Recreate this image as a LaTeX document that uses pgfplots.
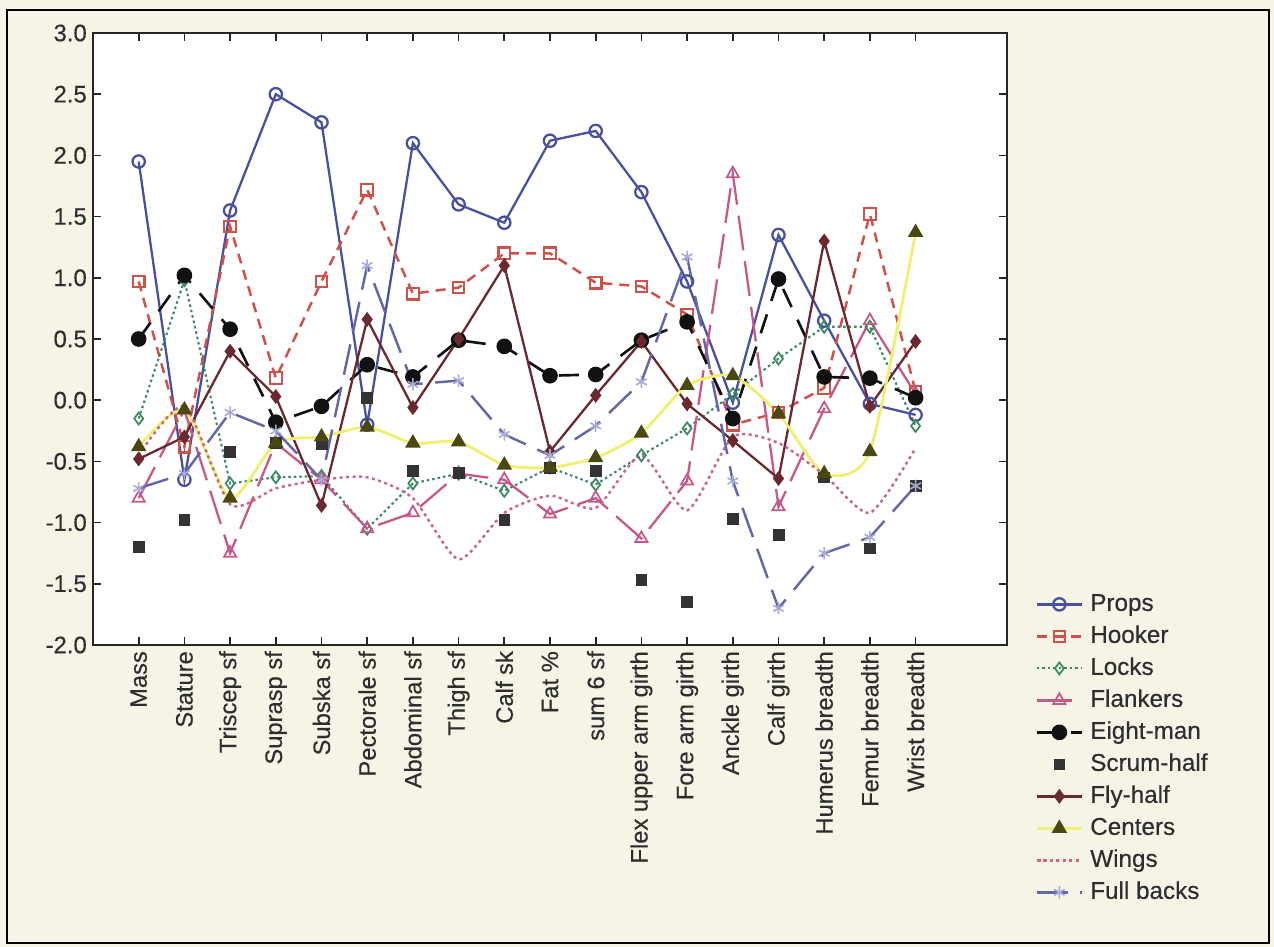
\documentclass[border=0pt]{standalone}
\usepackage{fontspec}
\setmainfont{Liberation Sans}
\newfontfamily\lblfont{Liberation Sans}[FakeBold=0.35]
\usepackage{pgfplots}
\pgfplotsset{compat=1.18}
\usepackage{pgfplotstable}

\definecolor{cProps}{HTML}{4A50A0}
\definecolor{cHook}{HTML}{D0504A}
\definecolor{cLocks}{HTML}{3C8A62}
\definecolor{cFlank}{HTML}{C8588A}
\definecolor{cEight}{HTML}{111111}
\definecolor{cScrum}{HTML}{333333}
\definecolor{cFly}{HTML}{6A2830}
\definecolor{cCentL}{HTML}{F0F070}
\definecolor{cCentM}{HTML}{4A4810}
\definecolor{cWings}{HTML}{C86888}
\definecolor{cFull}{HTML}{6468A8}
\definecolor{cFullM}{HTML}{A8AAD8}
\definecolor{bgc}{HTML}{F6F4E6}
\definecolor{txt}{HTML}{2E2E2E}

\pgfplotstableread{
idx Props Hooker Locks Flankers Eight Scrum Fly Centers Wings Full
0   1.95  0.97  -0.15 -0.80  0.50 -1.20 -0.48 -0.38 -0.45 -0.72
1  -0.65 -0.38   0.98 -0.08  1.02 -0.98 -0.30 -0.08 -0.05 -0.60
2   1.55  1.42  -0.68 -1.25  0.58 -0.42  0.40 -0.80 -0.85 -0.10
3   2.50  0.18  -0.63 -0.35 -0.18 -0.35  0.03 -0.35 -0.72 -0.25
4   2.27  0.97  -0.62 -0.65 -0.05 -0.36 -0.86 -0.30 -0.65 -0.65
5  -0.20  1.72  -1.05 -1.05  0.29  0.02  0.66 -0.22 -0.63  1.10
6   2.10  0.87  -0.68 -0.92  0.19 -0.58 -0.06 -0.35 -0.80  0.13
7   1.60  0.92  -0.60 -0.60  0.49 -0.59  0.50 -0.34 -1.30  0.16
8   1.45  1.20  -0.74 -0.65  0.44 -0.98  1.10 -0.53 -0.92 -0.28
9   2.12  1.20  -0.55 -0.93  0.20 -0.55 -0.42 -0.55 -0.78 -0.45
10  2.20  0.96  -0.69 -0.80  0.21 -0.58  0.04 -0.47 -0.88 -0.21
11  1.70  0.93  -0.45 -1.13  0.49 -1.47  0.48 -0.27 -0.45  0.15
12  0.97  0.70  -0.23 -0.66  0.64 -1.65 -0.03  0.12 -0.90  1.17
13 -0.02 -0.20   0.05  1.85 -0.15 -0.97 -0.33  0.20 -0.30 -0.66
14  1.35 -0.10   0.34 -0.87  0.99 -1.10 -0.64 -0.11 -0.35 -1.70
15  0.65  0.10   0.60 -0.07  0.19 -0.63  1.30 -0.60 -0.61 -1.25
16 -0.03  1.52   0.60  0.65  0.18 -1.21 -0.05 -0.42 -0.92 -1.12
17 -0.12  0.07  -0.21  0.05  0.02 -0.70  0.48  1.37 -0.39 -0.70
}\datatable

\begin{document}
\begin{tikzpicture}
\fill[bgc] (-1.86,-6.04) rectangle (23.62,12.9);
\draw[black, line width=1.3pt] (-1.72,-5.96) rectangle (23.52,12.70);
\begin{axis}[
  at={(0,0)}, anchor=south west,
  width=18.28cm, height=12.24cm, scale only axis,
  xmin=-1, xmax=19, ymin=-2, ymax=3,
  axis background/.style={fill=white},
  axis line style={line width=1.2pt, black!85},
  tick style={line width=1pt, black!85},
  major tick length=0.16cm,
  tick align=inside,
  xtick={0,...,17},
  xticklabels={Mass,Stature,Triscep sf,Suprasp sf,Subska sf,Pectorale sf,Abdominal sf,Thigh sf,Calf sk,Fat \%,sum 6 sf,Flex upper arm girth,Fore arm girth,Anckle girth,Calf girth,Humerus breadth,Femur breadth,Wrist breadth},
  xticklabel style={rotate=90, anchor=east, font=\lblfont\fontsize{13.5}{16}\selectfont, text=txt},
  ytick={-2,-1.5,...,3},
  yticklabel style={/pgf/number format/fixed, /pgf/number format/fixed zerofill, /pgf/number format/precision=1, /pgf/number format/assume math mode=true, font=\lblfont\fontsize{13.6}{16}\selectfont, text=txt},
  legend style={at={(1.025,0.0915)}, anchor=north west, draw=none, fill=none,
    font=\lblfont\fontsize{13.8}{16}\selectfont, text=txt,
    nodes={inner sep=0pt, text height=0.36cm, text depth=0.1cm, anchor=west},
    row sep=0.18cm, column sep=0.14cm},
  legend cell align=left,
  legend image code/.code={\draw[mark repeat=2,mark phase=2,#1] plot coordinates {(0cm,0cm) (0.45cm,0cm) (0.9cm,0cm)};},
  every axis plot/.append style={mark options={solid}},
]
\addplot[color=cProps, line width=1.3pt, mark=o, mark size=3.5pt, mark options={line width=1.3pt}] table[x=idx,y=Props] {\datatable};
\addlegendentry{Props}
\addplot[color=cHook, line width=1.4pt, dash pattern=on 0.2cm off 0.14cm, mark=square, mark size=3.3pt, mark options={line width=1.2pt, solid}] table[x=idx,y=Hooker] {\datatable};
\addlegendentry{Hooker}
\addplot[color=cLocks, line width=1.2pt, dash pattern=on 0.05cm off 0.06cm, mark=diamond, mark size=3.4pt, mark options={line width=1pt, solid}] table[x=idx,y=Locks] {\datatable};
\addlegendentry{Locks}
\addplot[color=cFlank, line width=1.3pt, dash pattern=on 0.7cm off 0.22cm, mark=triangle, mark size=4pt, mark options={line width=1pt, solid, fill=white}] table[x=idx,y=Flankers] {\datatable};
\addlegendentry{Flankers}
\addplot[color=cEight, line width=1.5pt, dash pattern=on 0.4cm off 0.28cm, mark=*, mark size=3.7pt, mark options={solid}] table[x=idx,y=Eight] {\datatable};
\addlegendentry{Eight-man}
\addplot[color=cScrum, only marks, mark=square*, mark size=3.1pt,
  legend image code/.code={\draw[mark repeat=2,mark phase=2,only marks] plot coordinates {(0cm,0cm) (0.45cm,0cm) (0.9cm,0cm)};}] table[x=idx,y=Scrum] {\datatable};
\addlegendentry{Scrum-half}
\addplot[color=cFly, line width=1.3pt, mark=diamond*, mark size=3.2pt, mark options={solid}] table[x=idx,y=Fly] {\datatable};
\addlegendentry{Fly-half}
\addplot[color=cCentL, line width=1.6pt, smooth, tension=0.4, mark=triangle*, mark size=3.5pt, mark options={solid, draw=cCentM, fill=cCentM}] table[x=idx,y=Centers] {\datatable};
\addlegendentry{Centers}
\addplot[color=cWings, line width=1.4pt, smooth, tension=0.4, dash pattern=on 0.06cm off 0.07cm] table[x=idx,y=Wings] {\datatable};
\addlegendentry{Wings}
\addplot[color=cFull, line width=1.4pt, dash pattern=on 0.62cm off 0.25cm, mark=asterisk, mark size=3.5pt, mark options={solid, draw=cFullM, line width=0.9pt}] table[x=idx,y=Full] {\datatable};
\addlegendentry{Full backs}
\end{axis}
\end{tikzpicture}
\end{document}
